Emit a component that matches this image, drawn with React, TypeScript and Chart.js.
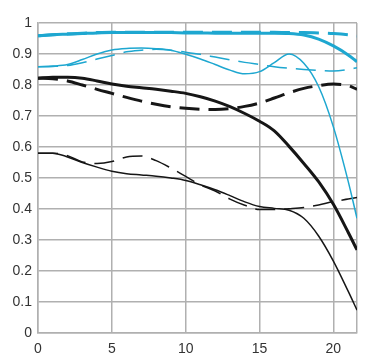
import React, { useEffect, useRef } from "react";
import { Chart, registerables } from "chart.js";

Chart.register(...registerables);

const X = [0, 1, 2, 3, 4, 5, 6, 7, 8, 9, 10, 11, 12, 13, 14, 15, 16, 17, 18, 19, 20, 21, 21.6];
const X_TICKS = [0, 5, 10, 15, 20];
const X_MAX = 21.6;

const cyanThickSolid = [0.959, 0.962, 0.964, 0.966, 0.968, 0.969, 0.969, 0.969, 0.969, 0.969, 0.968, 0.968, 0.967, 0.967, 0.967, 0.967, 0.967, 0.966, 0.961, 0.948, 0.926, 0.897, 0.875];
const cyanThickDashed = [0.959, 0.962, 0.965, 0.967, 0.969, 0.97, 0.97, 0.97, 0.97, 0.97, 0.97, 0.97, 0.97, 0.97, 0.97, 0.97, 0.97, 0.969, 0.969, 0.968, 0.966, 0.962, 0.958];
const cyanThinSolid = [0.859, 0.861, 0.866, 0.882, 0.9, 0.913, 0.918, 0.919, 0.917, 0.912, 0.899, 0.884, 0.866, 0.848, 0.836, 0.843, 0.872, 0.9, 0.87, 0.795, 0.665, 0.49, 0.37];
const cyanThinDashed = [0.859, 0.86, 0.863, 0.872, 0.884, 0.895, 0.907, 0.912, 0.915, 0.912, 0.906, 0.899, 0.89, 0.881, 0.873, 0.866, 0.859, 0.854, 0.85, 0.847, 0.845, 0.85, 0.856];
const blackThickSolid = [0.822, 0.825, 0.825, 0.822, 0.813, 0.803, 0.796, 0.791, 0.786, 0.78, 0.773, 0.762, 0.748, 0.73, 0.708, 0.683, 0.652, 0.602, 0.547, 0.488, 0.415, 0.325, 0.268];
const blackThickDashed = [0.822, 0.82, 0.813, 0.8, 0.786, 0.773, 0.76, 0.748, 0.738, 0.73, 0.725, 0.722, 0.721, 0.724, 0.731, 0.742, 0.758, 0.775, 0.789, 0.798, 0.803, 0.798, 0.786];
const blackThinSolid = [0.58, 0.58, 0.568, 0.55, 0.535, 0.522, 0.514, 0.51, 0.506, 0.5, 0.492, 0.478, 0.462, 0.443, 0.423, 0.408, 0.402, 0.396, 0.37, 0.313, 0.232, 0.135, 0.074];
const blackThinDashed = [0.58, 0.58, 0.572, 0.552, 0.547, 0.553, 0.568, 0.571, 0.556, 0.532, 0.505, 0.478, 0.458, 0.432, 0.412, 0.398, 0.398, 0.401, 0.405, 0.413, 0.424, 0.432, 0.437];

const CYAN = "#1ea7d0";
const BLACK = "#161616";
const GRID = "#b0b0b0";

function toPoints(ys: number[]) {
  return ys.map((y, i) => ({ x: X[i], y }));
}

export default function App() {
  const ref = useRef<HTMLCanvasElement | null>(null);
  useEffect(() => {
    document.body.style.margin = "0";
    const ctx = ref.current!;
    const mk = (data: number[], color: string, width: number, dashed: boolean) => ({
      data: toPoints(data),
      borderColor: color,
      borderWidth: width,
      borderDash: dashed ? [20, 9] : [],
      pointRadius: 0,
      fill: false,
      cubicInterpolationMode: "monotone" as const,
    });
    const chart = new Chart(ctx, {
      type: "line",
      data: {
        datasets: [
          mk(cyanThinDashed, CYAN, 1.5, true),
          mk(cyanThinSolid, CYAN, 1.5, false),
          mk(cyanThickDashed, CYAN, 3, true),
          mk(cyanThickSolid, CYAN, 3, false),
          mk(blackThinDashed, BLACK, 1.5, true),
          mk(blackThinSolid, BLACK, 1.5, false),
          mk(blackThickDashed, BLACK, 3, true),
          mk(blackThickSolid, BLACK, 3, false),
        ],
      },
      options: {
        animation: false,
        responsive: false,
        layout: { padding: { top: 23, right: 8, left: 0, bottom: 0 } },
        plugins: { legend: { display: false }, tooltip: { enabled: false } },
        scales: {
          x: {
            type: "linear",
            min: 0,
            max: X_MAX,
            afterBuildTicks: (s: any) => {
              s.ticks = [...X_TICKS, X_MAX].map((v) => ({ value: v }));
            },
            ticks: {
              padding: 8,
              autoSkip: false,
              color: "#333",
              font: { family: "Liberation Sans", size: 14 },
              maxRotation: 0,
              callback: (v: any) => (X_TICKS.includes(Number(v)) ? String(v) : ""),
            },
            grid: { color: GRID, lineWidth: 1.5, drawTicks: false },
            border: { color: GRID, width: 1.5 },
            afterFit: (s: any) => {
              s.height = 30;
            },
          },
          y: {
            type: "linear",
            min: 0,
            max: 1,
            ticks: {
              stepSize: 0.1,
              padding: 6,
              autoSkip: false,
              color: "#333",
              font: { family: "Liberation Sans", size: 14 },
              callback: (v: any) => String(Number(Number(v).toFixed(1))),
            },
            grid: { color: GRID, lineWidth: 1.5, drawTicks: false },
            border: { color: GRID, width: 1.5 },
            afterFit: (s: any) => {
              s.width = 38;
            },
          },
        },
      },
    });
    return () => chart.destroy();
  }, []);
  return (
    <div style={{ width: 365, height: 363 }}>
      <canvas ref={ref} width={365} height={363} style={{ display: "block" }} />
    </div>
  );
}
